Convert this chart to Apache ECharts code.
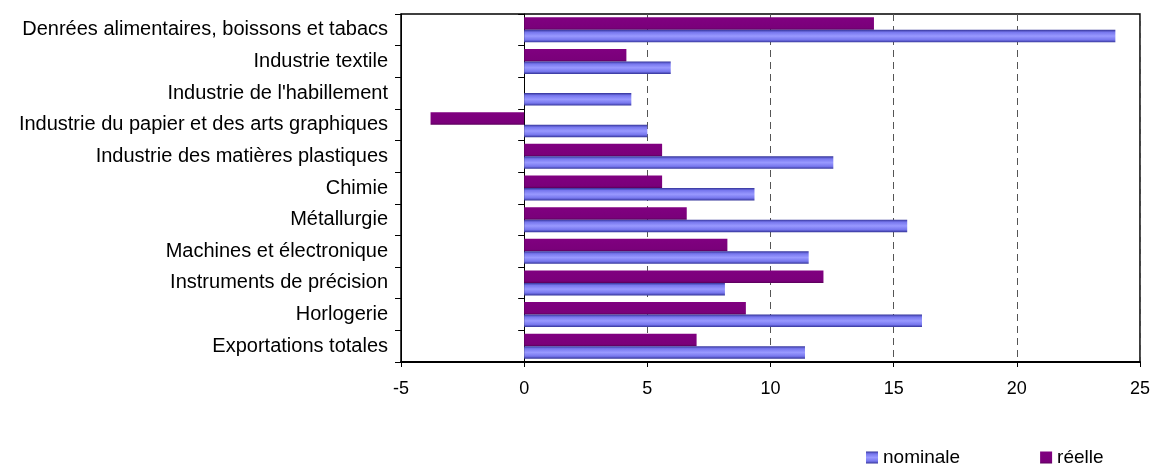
<!DOCTYPE html>
<html>
<head>
<meta charset="utf-8">
<script src="https://cdn.jsdelivr.net/npm/echarts@6/dist/echarts.min.js"></script>
<style>html,body{margin:0;padding:0;background:#fff}#c{width:1153px;height:464px}</style>
</head>
<body>
<div id="c"></div>
<script>
const categories = [
  "Denrées alimentaires, boissons et tabacs",
  "Industrie textile",
  "Industrie de l'habillement",
  "Industrie du papier et des arts graphiques",
  "Industrie des matières plastiques",
  "Chimie",
  "Métallurgie",
  "Machines et électronique",
  "Instruments de précision",
  "Horlogerie",
  "Exportations totales"
];
const reelle = [14.2, 4.15, 0, -3.8, 5.6, 5.6, 6.6, 8.25, 12.15, 9.0, 7.0];
const nominale = [24.0, 5.95, 4.35, 5.0, 12.55, 9.35, 15.55, 11.55, 8.15, 16.15, 11.4];
const xTicks = { min: -5, max: 25, interval: 5 };

const font = "'Liberation Sans', Arial, sans-serif";
const chart = echarts.init(document.getElementById('c'), null, { renderer: 'canvas' });
const nomGrad = new echarts.graphic.LinearGradient(0, 0, 0, 1, [
  { offset: 0, color: '#333399' },
  { offset: 0.2, color: '#7777ee' },
  { offset: 0.5, color: '#9999ff' },
  { offset: 0.8, color: '#7777ee' },
  { offset: 1, color: '#333399' }
]);
const reelGrad = new echarts.graphic.LinearGradient(0, 0, 0, 1, [
  { offset: 0, color: '#800080' },
  { offset: 0.85, color: '#7a007a' },
  { offset: 1, color: '#5a005a' }
]);
chart.setOption({
  animation: false,
  textStyle: { fontFamily: font },
  grid: { left: 401, right: 12, top: 14, bottom: 102, show: true, borderColor: '#000', borderWidth: 1.5, containLabel: false },
  legend: {
    left: 866, top: 448, padding: 0, itemWidth: 12, itemHeight: 12, itemGap: 80,
    icon: 'rect',
    data: ['nominale', 'réelle'],
    textStyle: { fontSize: 19, color: '#000', fontFamily: font }
  },
  xAxis: {
    type: 'value', min: xTicks.min, max: xTicks.max, interval: xTicks.interval,
    axisLine: { show: true, onZero: false, lineStyle: { color: '#000', width: 2 } },
    axisTick: { show: true, length: 5, lineStyle: { color: '#000' } },
    axisLabel: { fontSize: 18, color: '#000', margin: 18, fontFamily: font },
    splitLine: {
      show: true,
      lineStyle: { color: '#555', type: [7, 5], width: 1 },
      interval: function (i, v) { return i > 0 && i < 6 && v !== 0; }
    }
  },
  yAxis: [
    {
      type: 'category', data: categories, inverse: true, position: 'left',
      axisLine: { show: true, onZero: false, lineStyle: { color: '#000' } },
      axisTick: { show: true, length: 6, lineStyle: { color: '#000' } },
      axisLabel: { fontSize: 20, color: '#000', margin: 13, fontFamily: font }
    },
    {
      type: 'category', data: categories, inverse: true, position: 'left',
      axisLine: { show: true, onZero: true, lineStyle: { color: '#000' } },
      axisTick: { show: true, length: 6, lineStyle: { color: '#000' } },
      axisLabel: { show: false }
    }
  ],
  series: [
    {
      name: 'réelle', type: 'bar', data: reelle, yAxisIndex: 0,
      barWidth: 12.5, barGap: '0%',
      itemStyle: { color: reelGrad }
    },
    {
      name: 'nominale', type: 'bar', data: nominale, yAxisIndex: 0,
      barWidth: 12.5, barGap: '0%',
      itemStyle: { color: nomGrad }
    }
  ]
});
</script>
</body>
</html>
